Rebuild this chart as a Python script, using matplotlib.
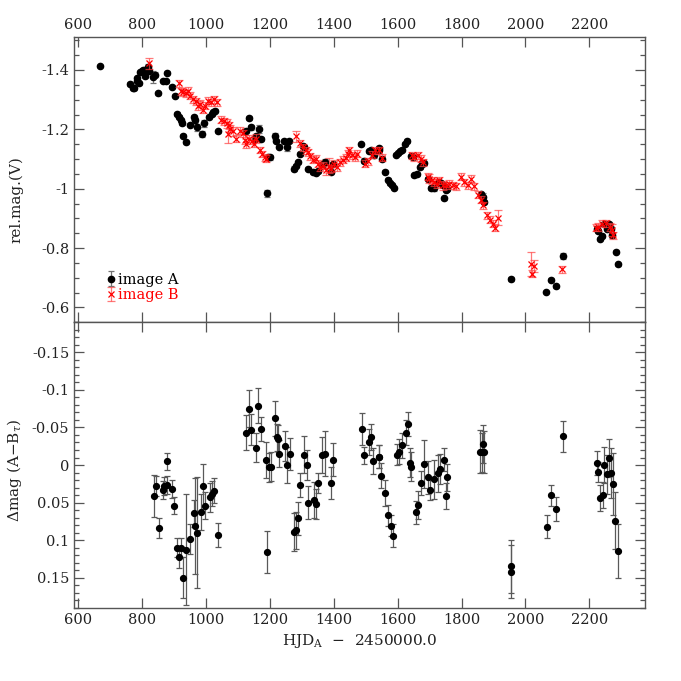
import matplotlib
matplotlib.use('Agg')
import matplotlib.pyplot as plt
from matplotlib.ticker import MultipleLocator, FuncFormatter
import numpy as np

# light curve of image A: day, rel. mag, error
a_day = [668, 761, 772, 774, 782, 784, 791, 793, 798, 803, 808, 816, 819, 822, 834, 840,
         850, 866, 874, 878, 892, 902, 909, 916, 920, 923, 928, 937, 949, 962, 966, 970,
         986, 994, 1009, 1017, 1022, 1027, 1036, 1126, 1134, 1142, 1154, 1157, 1165, 1173,
         1191, 1194, 1201, 1215, 1220, 1228, 1244, 1254, 1260, 1274, 1280, 1288, 1293, 1304,
         1308, 1319, 1334, 1343, 1350, 1366, 1371, 1392, 1397, 1486, 1496, 1509, 1517, 1525,
         1540, 1543, 1551, 1559, 1569, 1576, 1582, 1587, 1595, 1602, 1608, 1614, 1624, 1629,
         1642, 1647, 1652, 1659, 1670, 1676, 1683, 1694, 1704, 1715, 1725, 1730, 1736, 1743,
         1746, 1752, 1756, 1861, 1866, 1871, 1954, 2066, 2080, 2096, 2118, 2225, 2228, 2233,
         2241, 2246, 2256, 2262, 2267, 2272, 2283, 2290]
a_mag = [-1.414, -1.352, -1.338, -1.339, -1.372, -1.364, -1.355, -1.392, -1.398, -1.400, -1.381,
         -1.403, -1.411, -1.398, -1.377, -1.384, -1.321, -1.364, -1.362, -1.390, -1.344, -1.314,
         -1.252, -1.241, -1.230, -1.221, -1.179, -1.157, -1.215, -1.241, -1.230, -1.207, -1.185,
         -1.221, -1.241, -1.252, -1.257, -1.263, -1.194, -1.196, -1.239, -1.207, -1.168, -1.176,
         -1.202, -1.168, -0.985, -1.106, -1.106, -1.179, -1.162, -1.142, -1.162, -1.142, -1.162,
         -1.067, -1.078, -1.089, -1.118, -1.145, -1.140, -1.067, -1.056, -1.054, -1.059, -1.084,
         -1.089, -1.056, -1.084, -1.149, -1.095, -1.126, -1.129, -1.112, -1.138, -1.131, -1.101,
         -1.058, -1.030, -1.019, -1.011, -1.003, -1.115, -1.120, -1.126, -1.131, -1.151, -1.160,
         -1.109, -1.106, -1.045, -1.048, -1.073, -1.082, -1.086, -1.034, -1.003, -1.003, -1.019,
         -1.022, -1.019, -1.011, -0.968, -0.997, -1.000, -0.981, -0.972, -0.955, -0.697, -0.653,
         -0.694, -0.672, -0.772, -0.866, -0.858, -0.832, -0.840, -0.882, -0.866, -0.882, -0.866,
         -0.843, -0.788, -0.745]
a_err = [0.004, 0.006, 0.006, 0.006, 0.006, 0.006, 0.006, 0.006, 0.006, 0.006, 0.008, 0.006,
         0.008, 0.006, 0.020, 0.008, 0.005, 0.005, 0.005, 0.005, 0.005, 0.005, 0.006, 0.006,
         0.006, 0.006, 0.005, 0.005, 0.005, 0.008, 0.008, 0.012, 0.010, 0.012, 0.006, 0.006,
         0.006, 0.006, 0.005, 0.006, 0.006, 0.008, 0.008, 0.008, 0.014, 0.006, 0.012, 0.008,
         0.008, 0.010, 0.006, 0.006, 0.006, 0.014, 0.006, 0.008, 0.006, 0.006, 0.006, 0.006,
         0.006, 0.005, 0.005, 0.005, 0.005, 0.006, 0.010, 0.006, 0.006, 0.006, 0.010, 0.006,
         0.006, 0.008, 0.006, 0.008, 0.008, 0.005, 0.005, 0.005, 0.005, 0.005, 0.005, 0.005,
         0.005, 0.005, 0.005, 0.006, 0.006, 0.006, 0.005, 0.005, 0.005, 0.005, 0.005, 0.006,
         0.006, 0.012, 0.006, 0.006, 0.006, 0.006, 0.005, 0.006, 0.006, 0.008, 0.012, 0.008,
         0.007, 0.004, 0.005, 0.005, 0.010, 0.006, 0.006, 0.006, 0.006, 0.006, 0.006, 0.006,
         0.008, 0.008, 0.005, 0.005]

# light curve of image B (time-shifted)
b_day = [822, 916, 920, 928, 937, 944, 949, 959, 968, 975, 980, 989, 996, 1006, 1014, 1024,
         1033, 1048, 1055, 1066, 1069, 1072, 1076, 1083, 1093, 1107, 1116, 1121, 1126, 1134,
         1145, 1149, 1155, 1168, 1176, 1183, 1189, 1282, 1295, 1303, 1312, 1319, 1326, 1334,
         1343, 1350, 1357, 1366, 1376, 1384, 1392, 1402, 1409, 1418, 1428, 1437, 1444, 1449,
         1457, 1465, 1472, 1499, 1507, 1520, 1530, 1541, 1551, 1645, 1652, 1663, 1673, 1680,
         1694, 1699, 1708, 1715, 1722, 1730, 1741, 1751, 1762, 1772, 1783, 1798, 1808, 1819,
         1829, 1840, 1853, 1861, 1868, 1881, 1889, 1899, 1905, 1913, 2017, 2020, 2027, 2114,
         2222, 2228, 2241, 2252, 2264, 2272, 2274]
b_mag = [-1.422, -1.355, -1.328, -1.325, -1.321, -1.330, -1.314, -1.302, -1.294, -1.280, -1.286,
         -1.266, -1.280, -1.297, -1.291, -1.302, -1.291, -1.232, -1.227, -1.221, -1.185, -1.213,
         -1.202, -1.194, -1.168, -1.196, -1.187, -1.165, -1.151, -1.168, -1.162, -1.151, -1.168,
         -1.129, -1.118, -1.106, -1.101, -1.176, -1.153, -1.140, -1.129, -1.123, -1.109, -1.098,
         -1.101, -1.084, -1.073, -1.078, -1.062, -1.078, -1.067, -1.084, -1.073, -1.089, -1.098,
         -1.104, -1.118, -1.129, -1.112, -1.106, -1.118, -1.084, -1.093, -1.115, -1.129, -1.129,
         -1.104, -1.112, -1.106, -1.112, -1.101, -1.089, -1.041, -1.034, -1.028, -1.022, -1.017,
         -1.028, -1.011, -1.011, -1.017, -1.011, -1.008, -1.041, -1.022, -1.011, -1.034, -1.008,
         -0.980, -0.963, -0.944, -0.910, -0.896, -0.882, -0.869, -0.903, -0.746, -0.714, -0.739,
         -0.728, -0.869, -0.871, -0.882, -0.884, -0.871, -0.862, -0.843]
b_err = [0.020, 0.012, 0.012, 0.012, 0.012, 0.012, 0.012, 0.012, 0.012, 0.015, 0.012, 0.012,
         0.012, 0.012, 0.012, 0.012, 0.012, 0.012, 0.012, 0.015, 0.030, 0.012, 0.012, 0.015,
         0.012, 0.012, 0.012, 0.015, 0.015, 0.012, 0.012, 0.012, 0.015, 0.010, 0.010, 0.012,
         0.012, 0.020, 0.012, 0.012, 0.012, 0.012, 0.012, 0.012, 0.012, 0.012, 0.012, 0.012,
         0.015, 0.025, 0.012, 0.012, 0.012, 0.012, 0.012, 0.012, 0.012, 0.012, 0.012, 0.012,
         0.012, 0.012, 0.012, 0.012, 0.012, 0.012, 0.012, 0.012, 0.012, 0.012, 0.012, 0.012,
         0.012, 0.015, 0.012, 0.012, 0.015, 0.012, 0.015, 0.012, 0.012, 0.012, 0.012, 0.012,
         0.012, 0.012, 0.012, 0.012, 0.012, 0.012, 0.012, 0.012, 0.012, 0.012, 0.012, 0.025,
         0.040, 0.012, 0.020, 0.012, 0.012, 0.012, 0.012, 0.012, 0.012, 0.020, 0.012]

# difference light curve A - B
d_day = [835, 842, 851, 864, 868, 876, 878, 892, 900, 909, 916, 920, 928, 937, 949, 962, 965,
         971, 984, 991, 996, 1012, 1019, 1025, 1036, 1126, 1134, 1142, 1155, 1162, 1173, 1186,
         1192, 1196, 1202, 1215, 1222, 1225, 1229, 1246, 1253, 1262, 1275, 1280, 1287, 1293,
         1305, 1315, 1320, 1337, 1343, 1350, 1363, 1371, 1392, 1397, 1488, 1495, 1510, 1517,
         1524, 1540, 1543, 1549, 1560, 1570, 1578, 1586, 1599, 1605, 1613, 1626, 1632, 1640,
         1643, 1656, 1664, 1672, 1683, 1694, 1702, 1713, 1725, 1734, 1744, 1750, 1755, 1858,
         1864, 1866, 1869, 1955, 1955, 2067, 2080, 2097, 2118, 2223, 2227, 2233, 2243, 2246,
         2257, 2262, 2268, 2274, 2282, 2290]
d_mag = [0.041, 0.028, 0.084, 0.033, 0.028, 0.027, -0.005, 0.032, 0.054, 0.110, 0.123, 0.110,
         0.150, 0.113, 0.099, 0.064, 0.081, 0.090, 0.063, 0.028, 0.054, 0.043, 0.038, 0.034,
         0.093, -0.043, -0.075, -0.047, -0.023, -0.079, -0.048, -0.007, 0.116, 0.003, 0.002,
         -0.062, -0.037, -0.035, -0.015, -0.025, 0.000, -0.015, 0.089, 0.087, 0.071, 0.027,
         -0.014, 0.000, 0.050, 0.047, 0.052, 0.024, -0.013, -0.015, 0.024, -0.007, -0.048,
         -0.013, -0.031, -0.037, -0.005, -0.011, -0.011, 0.014, 0.037, 0.067, 0.081, 0.094,
         -0.014, -0.018, -0.026, -0.043, -0.055, -0.003, 0.002, 0.063, 0.053, 0.024, -0.001,
         0.016, 0.033, 0.019, 0.011, 0.005, -0.007, 0.041, 0.016, -0.018, -0.017, -0.028,
         -0.017, 0.135, 0.142, 0.082, 0.040, 0.058, -0.038, -0.003, 0.009, 0.044, 0.040, 0.000,
         0.012, -0.009, 0.011, 0.025, 0.074, 0.114]
d_err = [0.028, 0.013, 0.013, 0.012, 0.012, 0.012, 0.011, 0.012, 0.011, 0.013, 0.014, 0.013,
         0.027, 0.074, 0.020, 0.018, 0.064, 0.074, 0.024, 0.030, 0.018, 0.019, 0.017, 0.017,
         0.016, 0.023, 0.025, 0.021, 0.019, 0.023, 0.016, 0.024, 0.028, 0.019, 0.019, 0.023,
         0.018, 0.018, 0.018, 0.020, 0.024, 0.021, 0.025, 0.025, 0.022, 0.016, 0.024, 0.020,
         0.022, 0.024, 0.020, 0.013, 0.024, 0.030, 0.021, 0.022, 0.021, 0.011, 0.017, 0.017,
         0.017, 0.015, 0.015, 0.017, 0.017, 0.014, 0.014, 0.015, 0.014, 0.016, 0.016, 0.017,
         0.016, 0.019, 0.019, 0.015, 0.019, 0.016, 0.032, 0.022, 0.013, 0.026, 0.025, 0.020,
         0.015, 0.017, 0.018, 0.028, 0.026, 0.025, 0.028, 0.035, 0.035, 0.015, 0.014, 0.016,
         0.021, 0.016, 0.013, 0.017, 0.017, 0.024, 0.026, 0.025, 0.033, 0.041, 0.038, 0.036]

plt.rcParams['font.family'] = ['DejaVu Serif']
plt.rcParams['mathtext.fontset'] = 'dejavuserif'
plt.rcParams['axes.unicode_minus'] = False

fig = plt.figure(figsize=(6.81, 6.81), dpi=100)
ax1 = fig.add_axes([0.1087, 0.5267, 0.8385, 0.4185])
ax2 = fig.add_axes([0.1087, 0.1076, 0.8385, 0.4191])

ax1.errorbar(a_day, a_mag, yerr=a_err, fmt='o', color='black', ms=4.5, ecolor='0.45',
             elinewidth=0.9, capsize=2.4, capthick=0.9, label='image A', zorder=2)
ax1.errorbar(b_day, b_mag, yerr=b_err, fmt='x', color='red', ms=3.8, mew=0.9,
             ecolor=(1, 0.25, 0.25, 0.7), elinewidth=0.9, capsize=3.0, capthick=0.9,
             label='image B', zorder=3)

ax2.errorbar(d_day, d_mag, yerr=d_err, fmt='o', color='black', ms=4.2, ecolor='0.35',
             elinewidth=0.9, capsize=2.2, capthick=0.9)

fmt = FuncFormatter(lambda v, p: '%g' % round(v, 3))
for ax in (ax1, ax2):
    ax.set_xlim(586, 2375)
    ax.xaxis.set_major_locator(MultipleLocator(200))
    ax.yaxis.set_major_formatter(fmt)
    ax.tick_params(which='both', direction='in', top=True, right=True,
                   colors='#555555', labelcolor='#222222', labelsize=10.5)
    ax.tick_params(which='major', length=7, width=0.9)
    ax.tick_params(which='minor', length=3.5, width=0.9)
    for s in ax.spines.values():
        s.set_color('#555555')
        s.set_linewidth(1.0)

ax1.set_ylim(-0.55, -1.51)
ax1.yaxis.set_major_locator(MultipleLocator(0.2))
ax1.yaxis.set_minor_locator(MultipleLocator(0.05))
ax1.tick_params(labeltop=True, labelbottom=False)
ax1.set_ylabel('rel.mag.(V)', fontsize=11, color='#222222')
ax1.yaxis.set_label_coords(-0.088, 0.43)

ax2.set_ylim(0.19, -0.19)
ax2.yaxis.set_major_locator(MultipleLocator(0.05))
ax2.yaxis.set_minor_locator(MultipleLocator(0.01))
ax2.set_ylabel(r'$\Delta$mag (A$-$B$_\tau$)', fontsize=11, color='#222222')
ax2.yaxis.set_label_coords(-0.088, 0.48)
ax2.set_xlabel(r'HJD$_{\rm A}$  $-$  2450000.0', fontsize=11, color='#222222')

leg = ax1.legend(loc='lower left', bbox_to_anchor=(0.042, 0.04), frameon=False,
                 handlelength=0.6, handletextpad=0.2, labelspacing=0.1, fontsize=10.5,
                 borderaxespad=0.2)
for t, c in zip(leg.get_texts(), ['black', 'red']):
    t.set_color(c)

fig.savefig('out.png', dpi=100)
